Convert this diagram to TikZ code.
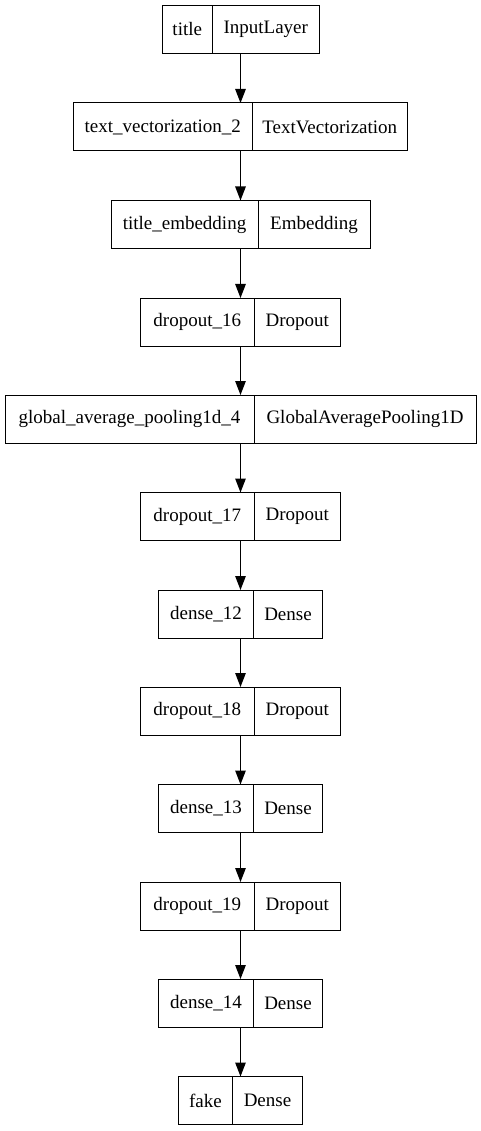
\documentclass[tikz,border=0pt]{standalone}
\usepackage{fontspec}
\setmainfont{Liberation Serif}
\usetikzlibrary{arrows.meta}
\begin{document}
\begin{tikzpicture}[x=1pt,y=-1pt,
    rec/.style={draw,line width=1pt,minimum height=48pt,inner sep=0pt,outer sep=0pt},
    lcell/.style={minimum height=48pt,inner sep=0pt,outer sep=0pt,anchor=west,
      font=\fontsize{19}{22}\selectfont},
    rcell/.style={minimum height=48pt,inner sep=0pt,outer sep=0pt,anchor=east,
      font=\fontsize{19}{22}\selectfont},
    bar/.style={line width=1pt},
    arr/.style={line width=1.2pt,-{Triangle[length=14pt,width=10.5pt]}}]
    \useasboundingbox (0,0) rectangle (481,1131);
    % layers
    \node[rec,minimum width=157pt] (inp) at (240.5,29.5) {};
    \node[lcell,minimum width=50.5pt] (inp-n) at (inp.west) {title};
    \node[rcell,minimum width=106.5pt] at (inp.east) {InputLayer};

    \node[rec,minimum width=334pt] (vec) at (240.5,127) {};
    \node[lcell,minimum width=178.5pt] (vec-n) at (vec.west) {text\_vectorization\_2};
    \node[rcell,minimum width=155.5pt] at (vec.east) {TextVectorization};

    \node[rec,minimum width=259pt] (emb) at (240.5,224.5) {};
    \node[lcell,minimum width=147pt] (emb-n) at (emb.west) {title\_embedding};
    \node[rcell,minimum width=112pt] at (emb.east) {Embedding};

    \node[rec,minimum width=200pt] (drop16) at (240.5,322) {};
    \node[lcell,minimum width=113.5pt] (drop16-n) at (drop16.west) {dropout\_16};
    \node[rcell,minimum width=86.5pt] at (drop16.east) {Dropout};

    \node[rec,minimum width=471pt] (gap) at (240.5,419) {};
    \node[lcell,minimum width=249pt] (gap-n) at (gap.west) {global\_average\_pooling1d\_4};
    \node[rcell,minimum width=222pt] at (gap.east) {GlobalAveragePooling1D};

    \node[rec,minimum width=200pt] (drop17) at (240.5,516.5) {};
    \node[lcell,minimum width=113.5pt] (drop17-n) at (drop17.west) {dropout\_17};
    \node[rcell,minimum width=86.5pt] at (drop17.east) {Dropout};

    \node[rec,minimum width=164pt] (dense12) at (240.5,614) {};
    \node[lcell,minimum width=95pt] (dense12-n) at (dense12.west) {dense\_12};
    \node[rcell,minimum width=69pt] at (dense12.east) {Dense};

    \node[rec,minimum width=200pt] (drop18) at (240.5,711) {};
    \node[lcell,minimum width=113.5pt] (drop18-n) at (drop18.west) {dropout\_18};
    \node[rcell,minimum width=86.5pt] at (drop18.east) {Dropout};

    \node[rec,minimum width=164pt] (dense13) at (240.5,808.5) {};
    \node[lcell,minimum width=95pt] (dense13-n) at (dense13.west) {dense\_13};
    \node[rcell,minimum width=69pt] at (dense13.east) {Dense};

    \node[rec,minimum width=200pt] (drop19) at (240.5,906) {};
    \node[lcell,minimum width=113.5pt] (drop19-n) at (drop19.west) {dropout\_19};
    \node[rcell,minimum width=86.5pt] at (drop19.east) {Dropout};

    \node[rec,minimum width=164pt] (dense14) at (240.5,1003) {};
    \node[lcell,minimum width=95pt] (dense14-n) at (dense14.west) {dense\_14};
    \node[rcell,minimum width=69pt] at (dense14.east) {Dense};

    \node[rec,minimum width=124pt] (fake) at (240.5,1100.5) {};
    \node[lcell,minimum width=54pt] (fake-n) at (fake.west) {fake};
    \node[rcell,minimum width=70pt] at (fake.east) {Dense};
    % dividers
    \foreach \l in {inp,vec,emb,drop16,gap,drop17,dense12,drop18,dense13,drop19,dense14,fake}
      \draw[bar] (\l-n.north east) -- (\l-n.south east);
    % edges
    \draw[arr] (inp) -- (vec);
    \draw[arr] (vec) -- (emb);
    \draw[arr] (emb) -- (drop16);
    \draw[arr] (drop16) -- (gap);
    \draw[arr] (gap) -- (drop17);
    \draw[arr] (drop17) -- (dense12);
    \draw[arr] (dense12) -- (drop18);
    \draw[arr] (drop18) -- (dense13);
    \draw[arr] (dense13) -- (drop19);
    \draw[arr] (drop19) -- (dense14);
    \draw[arr] (dense14) -- (fake);
\end{tikzpicture}
\end{document}
